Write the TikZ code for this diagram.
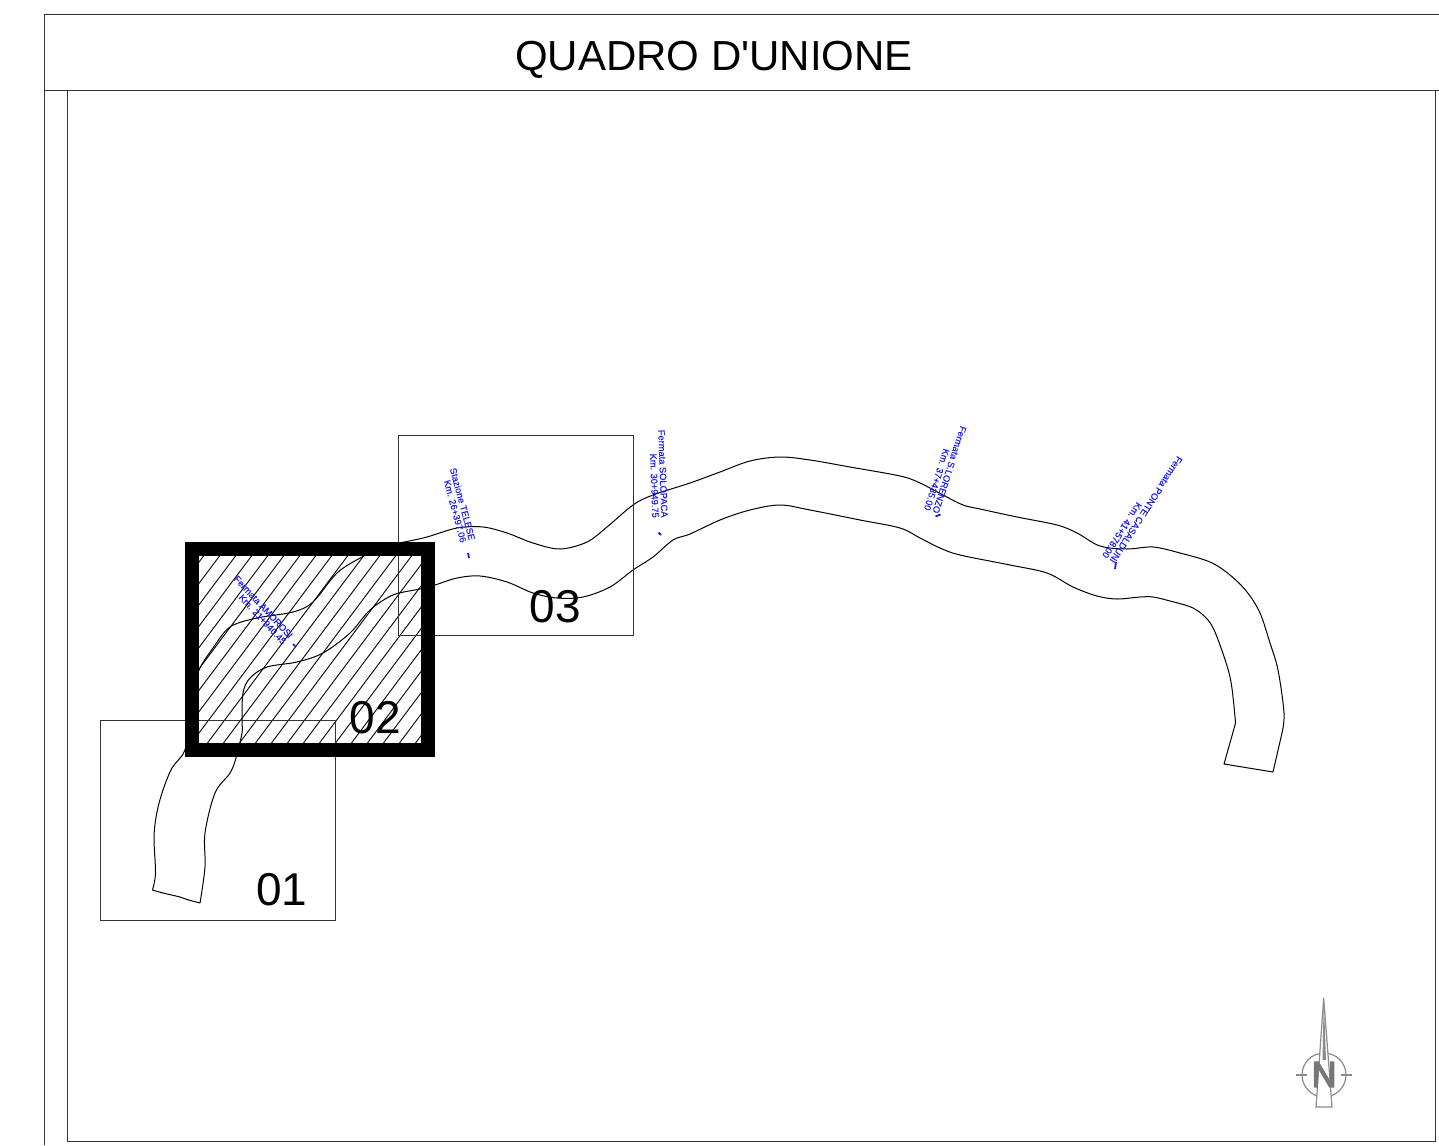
\documentclass[tikz,border=0pt]{standalone}
\usepackage{fontspec}
\setmainfont{Liberation Sans}
\newfontfamily\titlefont{Liberation Sans}
\newfontfamily\stopfont[FakeBold=0.08]{Liberation Sans}
\newfontfamily\northfont[FakeBold=4]{Liberation Sans}
\definecolor{sheet}{gray}{0.2}
\definecolor{label}{rgb}{0.1,0.1,1}
\definecolor{compass}{gray}{0.55}
\tikzset{
  sheetline/.style={draw=sheet,line width=0.5pt},
  river/.style={draw=black,line width=0.5pt,line join=round},
  stoplabel/.style={text=label,font=\stopfont\fontsize{4.65}{4.5}\selectfont,align=right,anchor=east,inner sep=0pt},
  stoptick/.style={draw=label,line width=0.9pt},
  tilelabel/.style={font=\fontsize{23}{23}\selectfont,inner sep=0pt,text=black},
}
\begin{document}
\begin{tikzpicture}[x=0.5pt,y=-0.5pt]
\useasboundingbox (0,0) rectangle (1439,1145);
% sheet frame
\draw[sheetline] (1439,15) -- (44,15) -- (44,1145);
\draw[sheetline] (44,90.5) -- (1439,90.5);
\draw[sheetline] (67,90.5) -- (67,1141) -- (1435,1141) -- (1435,90.5);
\node[font=\titlefont\fontsize{21}{21}\selectfont,inner sep=0pt] (title) at (714,60) {QUADRO D'UNIONE};
% hatching of tile 02
\begin{scope}
\clip (199,556) rectangle (421,743);
\foreach \k in {0,...,30} {
  \draw[black,line width=0.45pt] ({63.5+\k*16},743) -- ({63.5+\k*16+140},556);
}
\end{scope}
% river
\draw[river] plot[smooth,tension=0.55] coordinates {
 (152.5,890) (155.5,873) (154,837) (157,812) (163,790) (172,768) (185,750) (187,720) (191,693) (200,668) (213,648) (230,627) (257,618) (293,612) (313,602) (337,573) (362,557) (385,546) (407,541.5) (427,537) (457,528) (483,527) (507,533) (533,543) (560,549) (587,542) (607,527) (633,505) (653,495) (690,483) (720,472) (750,461) (780,457) (810,460) (850,467) (900,476) (920,483) (943,495) (963,505) (980,509) (1017,517) (1057,525) (1077,533) (1100,546) (1127,549) (1153,547) (1180,553) (1210,562) (1230,575) (1247,592) (1260,613) (1270,643) (1278,670) (1284,713) (1282,733)};
\draw[river] (1282,733) -- (1273,772) -- (1224,764) -- (1235,725);
\draw[river] plot[smooth,tension=0.55] coordinates {
 (1235,725) (1235,717) (1230,677) (1217,637) (1208,620) (1193,608) (1170,601) (1153,597) (1140,597) (1117,599) (1097,596) (1073,587) (1047,573) (1010,565) (960,555) (940,548) (920,538) (900,528) (860,520) (810,510) (780,505) (750,510) (720,520) (690,534) (673,540) (653,557) (633,570) (610,587) (583,597) (557,598) (533,593) (507,582) (480,576) (457,578) (435,585) (420,589) (393,595) (370,610) (350,633) (323,653) (297,662) (267,667) (250,678) (243,693) (242,720) (242,733) (236,758) (230,773) (215,793) (205,833) (205,867) (200,903)};
\draw[river] plot[smooth,tension=0.4] coordinates {(152.5,890) (163,893) (180,897) (187,899.5) (200,903)};
% tiles
\draw[sheetline] (100,720.7) rectangle (335.7,920.7);
\draw[sheetline] (398.3,435) rectangle (633.3,635);
\draw[black,line width=7pt,line join=miter] (192,548.5) rectangle (428,750);
\node[tilelabel] (t1) at (282,890) {01};
\node[tilelabel] (t2) at (375.5,718) {02};
\node[tilelabel] (t3) at (555.5,607) {03};
% stops
\node[stoplabel,rotate=-47] (amorosi) at (288,640) {Fermata AMOROSI\\Km. 21+940.45};
\node[stoplabel,rotate=-75] (telese) at (468,541.5) {Stazione TELESE\\Km. 26+397.06};
\node[stoplabel,rotate=-88] (solopaca) at (660,518) {Fermata SOLOPACA\\Km. 30+949.75};
\node[stoplabel,rotate=-108] (lorenzo) at (931,512) {Fermata S.LORENZO\\Km. 37+435.00};
\node[stoplabel,rotate=-123] (ponte) at (1108,560) {Fermata PONTE CASALDUNI\\Km. 41+578.00};
\draw[stoptick] (293,644) -- (295,646);
\draw[stoptick] (468,553) -- (469,558);
\draw[stoptick] (658.5,532.5) -- (661,535);
\draw[stoptick] (940.5,514.5) -- (935.5,516.5);
\draw[stoptick] (1116,562) -- (1115,569);
% north arrow
\coordinate (ncentre) at (1324,1075);
\draw[compass,line width=0.6pt] (ncentre) circle (22);
\draw[compass,line width=0.6pt] (1296,1075) -- (1307,1075) (1341,1075) -- (1352,1075);
\draw[compass,line width=0.6pt,fill=white] (1323.7,998) -- (1316,1107) -- (1332,1107) -- cycle;
\fill[compass] (1323.7,998) -- (1322.5,1060) -- (1326,1060) -- cycle;
\node[font=\northfont\fontsize{18}{18}\selectfont,text=compass!85!black,inner sep=0pt,xscale=0.95] (north) at (1324,1074.5) {N};
\end{tikzpicture}
\end{document}
